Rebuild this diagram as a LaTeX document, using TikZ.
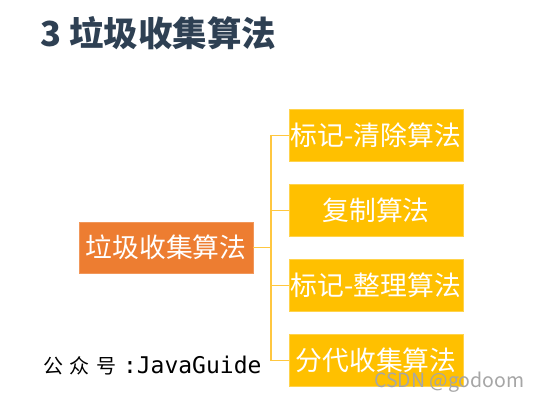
\documentclass[tikz,border=0pt]{standalone}
\usepackage{fontspec}
\newfontfamily\cjk{Noto Sans CJK SC}
\newfontfamily\mono{DejaVu Sans Mono}
\definecolor{titlecol}{HTML}{2E4053}
\definecolor{rootcol}{HTML}{ED7D31}
\definecolor{leafcol}{HTML}{FFC000}
\definecolor{linecol}{HTML}{FFC740}
\begin{document}
\begin{tikzpicture}[x=1pt,y=-1pt,
  rootbox/.style={fill=rootcol,draw=rootcol!80!white,line width=0.8pt,minimum width=174pt,minimum height=51pt,inner sep=0pt,text=white,font=\cjk\fontsize{26.8}{30}\selectfont},
  leafbox/.style={fill=leafcol,draw=leafcol!70!white,line width=0.8pt,minimum width=174pt,minimum height=52pt,inner sep=0pt,text=white,font=\cjk\fontsize{26.8}{30}\selectfont},
  link/.style={draw=linecol,line width=1.2pt}]
\useasboundingbox[fill=white] (0,0) rectangle (538,402);
\node[anchor=west,inner sep=0pt,text=titlecol,font=\cjk\bfseries\fontsize{34.5}{40}\selectfont] (title) at (40,33) {3 垃圾收集算法};
\node[rootbox] (root) at (166,247.5) {垃圾收集算法};
\node[leafbox] (l1) at (376,135.5) {标记-清除算法};
\node[leafbox] (l2) at (376,210.5) {复制算法};
\node[leafbox] (l3) at (376,285.5) {标记-整理算法};
\node[leafbox] (l4) at (376,360.5) {分代收集算法};
\coordinate (bus) at (271,247.5);
\draw[link] (root.east) -- (bus);
\foreach \n in {l1,l2,l3,l4} \draw[link] (bus) |- (\n.west);
\node[anchor=base west,inner sep=0pt,font=\cjk\fontsize{20}{24}\selectfont] (wm) at (43,373)
  {\makebox[26.6pt][l]{公}\makebox[26.6pt][l]{众}\makebox[26.6pt][l]{号}{\mono\fontsize{23}{26}\selectfont :JavaGuide}};
\node[anchor=base west,inner sep=0pt,text=gray!70,font=\cjk\fontsize{19.5}{22}\selectfont] (csdn) at (374,387) {CSDN @godoom};
\end{tikzpicture}
\end{document}
